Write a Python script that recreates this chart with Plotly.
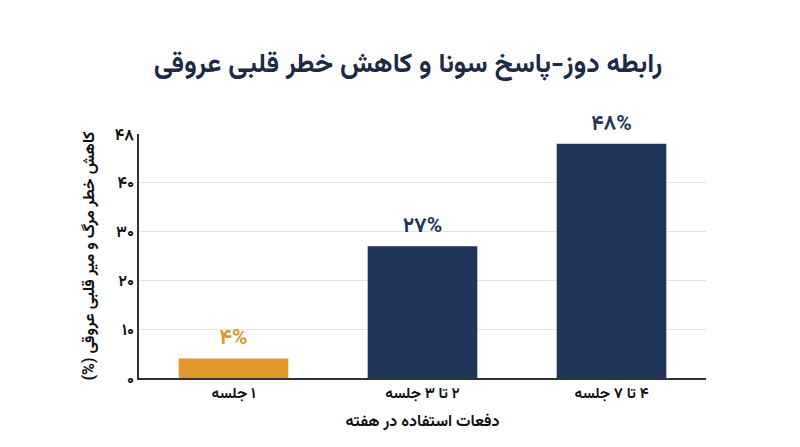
import plotly.graph_objects as go

# data
categories = ["۱ جلسه", "۲ تا ۳ جلسه", "۴ تا ۷ جلسه"]
values = [4, 27, 48]
bar_labels = ["۴%", "۲۷%", "۴۸%"]
bar_colors = ["#E0972B", "#1F3558", "#1F3558"]
tick_vals = [0, 10, 20, 30, 40, 50]
tick_text = ["۰", "۱۰", "۲۰", "۳۰", "۴۰", "۴۸"]

FONT = "Vazirmatn, DejaVu Sans, Noto Sans"
NAVY = "#1B2A47"


def rtl(s):
    # force right-to-left ordering so the leading digit stays on the right
    return "\u202b" + s + "\u202c"


fig = go.Figure()
fig.add_trace(go.Bar(
    x=categories,
    y=values,
    marker=dict(color=bar_colors, line=dict(width=0)),
    text=["<b>%s</b>" % t for t in bar_labels],
    textposition="outside",
    textfont=dict(family=FONT, size=21, color=bar_colors),
    cliponaxis=False,
    hoverinfo="skip",
))

# the page adds an 8px body margin, so margins are shifted to compensate
fig.update_layout(
    width=800, height=447,
    margin=dict(l=131, r=102, t=126, b=77),
    paper_bgcolor="white", plot_bgcolor="white",
    bargap=0.42,
    showlegend=False,
    font=dict(family=FONT, color="#111111"),
    title=dict(
        text="<b>رابطه دوز-پاسخ سونا و کاهش خطر قلبی عروقی</b>",
        x=0.5, xanchor="center", y=0.879, yanchor="middle",
        font=dict(family=FONT, size=27, color=NAVY),
    ),
)

fig.update_xaxes(
    showline=True, linecolor="#333333", linewidth=1.5,
    showgrid=False, ticks="",
    tickvals=categories,
    ticktext=["<b>%s</b>" % rtl(c) for c in categories],
    tickfont=dict(family=FONT, size=15, color="#111111"),
    title=dict(text="<b>دفعات استفاده در هفته</b>", standoff=10,
               font=dict(family=FONT, size=16, color="#111111")),
)
fig.update_yaxes(
    range=[0, 50],
    tickvals=tick_vals, ticktext=["<b>%s</b>" % t for t in tick_text],
    showline=True, linecolor="#333333", linewidth=1.5,
    showgrid=True, gridcolor="#E3E3E3", gridwidth=1,
    zeroline=False, ticks="", ticklen=0,
    tickfont=dict(family=FONT, size=16, color="#111111"),
    title=dict(text="<b>(%) کاهش خطر مرگ و میر قلبی عروقی</b>", standoff=16,
               font=dict(family=FONT, size=16, color="#111111")),
)

fig.write_html("out.html")
